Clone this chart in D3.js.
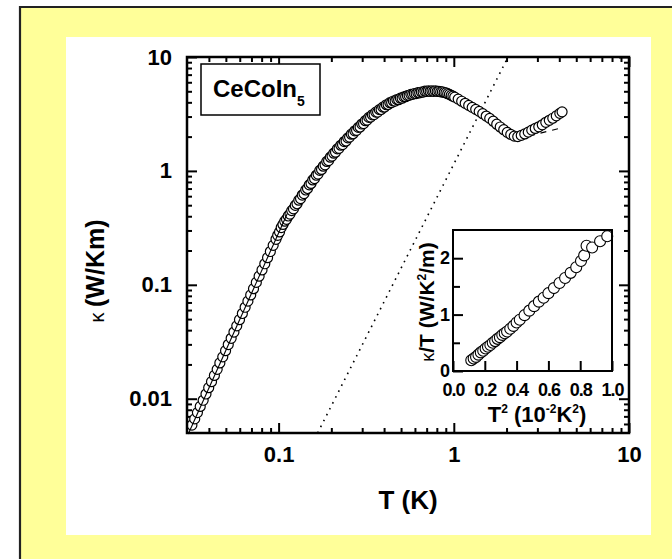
<!DOCTYPE html>
<html>
<head>
<meta charset="utf-8">
<script src="https://cdn.jsdelivr.net/npm/d3@7"></script>
<style>
  body { margin: 0; background: #fff; }
  svg text { font-family: "Liberation Sans", Arial, sans-serif; font-weight: bold; fill: #000; }
</style>
</head>
<body>
<svg id="chart" width="672" height="559"></svg>
<script>
// main curve, kappa(T) in W/Km (first sweep)
const T_VALUES = [
  0.0320, 0.0332, 0.0344, 0.0357, 0.0371, 0.0385, 0.0399, 0.0414, 0.0430, 0.0446,
  0.0462, 0.0480, 0.0498, 0.0516, 0.0536, 0.0556, 0.0577, 0.0598, 0.0621, 0.0644,
  0.0668, 0.0693, 0.0719, 0.0746, 0.0774, 0.0804, 0.0834, 0.0865, 0.0897, 0.0931,
  0.0966, 0.1012, 0.1059, 0.1109, 0.1161, 0.1216, 0.1274, 0.1334, 0.1396, 0.1462,
  0.1531, 0.1603, 0.1679, 0.1758, 0.1841, 0.1928, 0.2018, 0.2113, 0.2213, 0.2317,
  0.2427, 0.2541, 0.2661, 0.2786, 0.2917, 0.3055, 0.3199, 0.3350, 0.3508, 0.3673,
  0.3846, 0.4027, 0.4217, 0.4416, 0.4624, 0.4842, 0.5070, 0.5309, 0.5559, 0.5821,
  0.6095, 0.6383, 0.6683, 0.6998, 0.7328, 0.7674, 0.8035, 0.8414, 0.8810, 0.9226,
  0.9660, 1.0116, 1.0593, 1.1092, 1.1614, 1.2162, 1.2735, 1.3335, 1.3964, 1.4622,
  1.5311, 1.6032, 1.6788, 1.7579, 1.8408, 1.9275, 2.0184, 2.1135, 2.2131, 2.3174,
  2.4266, 2.5410, 2.6607, 2.7861, 2.9174, 3.0549, 3.1989, 3.3497, 3.5075, 3.6728,
  3.8459, 4.0272, 4.150
];
const KAPPA_VALUES = [
  0.00587, 0.00665, 0.00755, 0.00855, 0.00969, 0.0110, 0.0125, 0.0141, 0.0160, 0.0181,
  0.0206, 0.0233, 0.0264, 0.0299, 0.0339, 0.0385, 0.0436, 0.0494, 0.0560, 0.0635,
  0.0719, 0.0815, 0.0924, 0.105, 0.119, 0.135, 0.153, 0.173, 0.196, 0.222,
  0.251, 0.291, 0.339, 0.376, 0.418, 0.464, 0.515, 0.571, 0.632, 0.701,
  0.776, 0.857, 0.938, 1.03, 1.13, 1.23, 1.35, 1.46, 1.58, 1.70,
  1.83, 1.98, 2.12, 2.27, 2.43, 2.60, 2.79, 2.97, 3.12, 3.28,
  3.46, 3.64, 3.83, 3.98, 4.10, 4.22, 4.35, 4.48, 4.61, 4.70,
  4.77, 4.85, 4.92, 5.00, 5.00, 5.00, 4.99, 4.94, 4.88, 4.76,
  4.60, 4.44, 4.27, 4.09, 3.92, 3.76, 3.61, 3.47, 3.33, 3.18,
  3.03, 2.89, 2.73, 2.57, 2.43, 2.30, 2.18, 2.09, 2.02, 2.00,
  2.05, 2.11, 2.19, 2.28, 2.36, 2.44, 2.54, 2.67, 2.78, 2.90,
  3.04, 3.20, 3.30
];
// second sweep, dense between 0.1 K and 1 K
const T_VALUES_B = [
  0.0988, 0.1035, 0.1084, 0.1135, 0.1188, 0.1245, 0.1304, 0.1365, 0.1429, 0.1496,
  0.1567, 0.1641, 0.1718, 0.1799, 0.1884, 0.1973, 0.2065, 0.2163, 0.2264, 0.2371,
  0.2483, 0.2600, 0.2723, 0.2851, 0.2985, 0.3126, 0.3274, 0.3428, 0.3590, 0.3758,
  0.3936, 0.4121, 0.4315, 0.4519, 0.4732, 0.4955, 0.5188, 0.5433, 0.5688, 0.5957,
  0.6237, 0.6531, 0.6839, 0.7161, 0.7499, 0.7853, 0.8222, 0.8610, 0.9016, 0.9441,
  0.9886
];
const KAPPA_VALUES_B = [
  0.272, 0.318, 0.362, 0.402, 0.448, 0.498, 0.553, 0.614, 0.680, 0.754,
  0.833, 0.916, 1.01, 1.10, 1.21, 1.32, 1.43, 1.56, 1.68, 1.81,
  1.95, 2.10, 2.25, 2.41, 2.58, 2.76, 2.95, 3.11, 3.28, 3.45,
  3.63, 3.81, 3.97, 4.11, 4.23, 4.35, 4.47, 4.59, 4.70, 4.78,
  4.86, 4.93, 5.01, 5.05, 5.05, 5.04, 5.00, 4.94, 4.84, 4.70,
  4.53
];

// guide lines
const DOTTED_T = [0.167, 2.04];
const DOTTED_KAPPA = [0.005, 10];
const FIT_T = [0.0305, 0.112];
const FIT_KAPPA = [0.0049, 0.42];
const DASH_T = [2.3, 4.0];
const DASH_KAPPA = [1.91, 2.36];

// inset: kappa/T vs T^2
const INSET_T2 = [
  0.115, 0.13, 0.145, 0.16, 0.175, 0.19, 0.205, 0.22, 0.235, 0.25,
  0.265, 0.28, 0.295, 0.31, 0.325, 0.34, 0.36, 0.38, 0.40, 0.42,
  0.45, 0.48, 0.51, 0.54, 0.57, 0.60, 0.635, 0.67, 0.705, 0.74,
  0.775, 0.805, 0.825, 0.84, 0.875, 0.925, 0.97
];
const INSET_KT = [
  0.19, 0.22, 0.25, 0.29, 0.33, 0.36, 0.40, 0.43, 0.46, 0.50,
  0.53, 0.57, 0.60, 0.64, 0.67, 0.70, 0.75, 0.80, 0.86, 0.91,
  0.99, 1.07, 1.15, 1.23, 1.30, 1.38, 1.47, 1.56, 1.65, 1.74,
  1.84, 1.95, 2.05, 2.22, 2.19, 2.30, 2.39
];

const X_MAJOR = [0.1, 1, 10];
const X_LABELS = ['0.1', '1', '10'];
const X_MINOR = [0.04, 0.05, 0.06, 0.07, 0.08, 0.09, 0.2, 0.3, 0.4, 0.5, 0.6, 0.7, 0.8, 0.9,
                 2, 3, 4, 5, 6, 7, 8, 9];
const Y_MAJOR = [0.01, 0.1, 1, 10];
const Y_LABELS = ['0.01', '0.1', '1', '10'];
const Y_MINOR = [0.006, 0.007, 0.008, 0.009, 0.02, 0.03, 0.04, 0.05, 0.06, 0.07, 0.08, 0.09,
                 0.2, 0.3, 0.4, 0.5, 0.6, 0.7, 0.8, 0.9, 2, 3, 4, 5, 6, 7, 8, 9];
const INSET_X_TICKS = [0.0, 0.2, 0.4, 0.6, 0.8, 1.0];
const INSET_X_LABELS = ['0.0', '0.2', '0.4', '0.6', '0.8', '1.0'];
const INSET_Y_TICKS = [0, 1, 2];
const INSET_Y_MINOR = [0.5, 1.5];

const PLOT = { left: 187, right: 629, top: 57, bottom: 433 };
const INSET = { left: 453, right: 612, top: 230, bottom: 371 };

const svg = d3.select('#chart');

// page frame
svg.append('rect').attr('x', 20).attr('y', 7).attr('width', 652).attr('height', 552)
  .attr('fill', '#ffff99');
svg.append('path').attr('d', 'M20,559 V7 H672')
  .attr('fill', 'none').attr('stroke', '#222').attr('stroke-width', 2.2);
svg.append('rect').attr('x', 66).attr('y', 37).attr('width', 585).attr('height', 498)
  .attr('fill', '#fff');

const x = d3.scaleLog().domain([0.03, 10]).range([PLOT.left, PLOT.right]);
const y = d3.scaleLog().domain([0.005, 10]).range([PLOT.bottom, PLOT.top]);

const mainData = T_VALUES.map((t, i) => ({ t: t, k: KAPPA_VALUES[i] }))
  .concat(T_VALUES_B.map((t, i) => ({ t: t, k: KAPPA_VALUES_B[i] })))
  .sort((a, b) => a.t - b.t);
const toPts = (ts, ks) => ts.map((t, i) => [x(t), y(ks[i])]);

function styleAxis(g, size) {
  g.select('.domain').remove();
  g.selectAll('.tick line').attr('stroke', '#000').attr('stroke-width', 2);
  g.selectAll('.tick text').attr('font-size', size).attr('fill', '#000');
}

// minor ticks, all four sides
[[d3.axisBottom(x), `translate(0,${PLOT.bottom})`, X_MINOR],
 [d3.axisTop(x), `translate(0,${PLOT.top})`, X_MINOR],
 [d3.axisLeft(y), `translate(${PLOT.left},0)`, Y_MINOR],
 [d3.axisRight(y), `translate(${PLOT.right},0)`, Y_MINOR]].forEach(([ax, tr, vals]) => {
  svg.append('g').attr('transform', tr)
    .call(ax.tickValues(vals).tickSizeInner(-5).tickSizeOuter(0).tickFormat(''))
    .call(g => styleAxis(g, 0));
});

// major ticks
svg.append('g').attr('transform', `translate(0,${PLOT.bottom})`)
  .call(d3.axisBottom(x).tickValues(X_MAJOR).tickSizeInner(-10).tickSizeOuter(0)
    .tickPadding(13).tickFormat((d, i) => X_LABELS[i]))
  .call(g => styleAxis(g, 22));
svg.append('g').attr('transform', `translate(0,${PLOT.top})`)
  .call(d3.axisTop(x).tickValues(X_MAJOR).tickSizeInner(-10).tickSizeOuter(0).tickFormat(''))
  .call(g => styleAxis(g, 0));
svg.append('g').attr('transform', `translate(${PLOT.left},0)`)
  .call(d3.axisLeft(y).tickValues(Y_MAJOR).tickSizeInner(-10).tickSizeOuter(0)
    .tickPadding(15).tickFormat((d, i) => Y_LABELS[i]))
  .call(g => styleAxis(g, 22));
svg.append('g').attr('transform', `translate(${PLOT.right},0)`)
  .call(d3.axisRight(y).tickValues(Y_MAJOR).tickSizeInner(-10).tickSizeOuter(0).tickFormat(''))
  .call(g => styleAxis(g, 0));

const line = d3.line();

// T^3 dotted line and dashed fit, under the symbols
svg.append('path').attr('d', line(toPts(DOTTED_T, DOTTED_KAPPA)))
  .attr('fill', 'none').attr('stroke', '#000').attr('stroke-width', 1.6)
  .attr('stroke-dasharray', '1.6,5');
svg.append('path').attr('d', line(toPts(DASH_T, DASH_KAPPA)))
  .attr('fill', 'none').attr('stroke', '#000').attr('stroke-width', 1.2)
  .attr('stroke-dasharray', '6,6');

svg.append('g').selectAll('circle')
  .data(mainData)
  .enter()
  .append('circle')
  .attr('cx', d => x(d.t))
  .attr('cy', d => y(d.k))
  .attr('r', 5)
  .attr('fill', '#fff')
  .attr('stroke', '#000')
  .attr('stroke-width', 1.2);

// low-T power-law fit, drawn over the symbols
svg.append('path').attr('d', line(toPts(FIT_T, FIT_KAPPA)))
  .attr('fill', 'none').attr('stroke', '#000').attr('stroke-width', 1.1);

// frame
svg.append('rect')
  .attr('x', PLOT.left).attr('y', PLOT.top)
  .attr('width', PLOT.right - PLOT.left).attr('height', PLOT.bottom - PLOT.top)
  .attr('fill', 'none').attr('stroke', '#000').attr('stroke-width', 2.5);

// legend box
svg.append('rect').attr('x', 201).attr('y', 64).attr('width', 119).attr('height', 51)
  .attr('fill', '#fff').attr('stroke', '#000').attr('stroke-width', 1.5);
const leg = svg.append('text').attr('x', 213).attr('y', 97).attr('font-size', 24);
leg.append('tspan').text('CeCoIn');
leg.append('tspan').attr('font-size', 14).attr('dy', 9).text('5');

// axis titles
svg.append('text').attr('x', 408).attr('y', 509).attr('text-anchor', 'middle')
  .attr('font-size', 26).text('T (K)');
const yt = svg.append('text').attr('transform', 'translate(104,271) rotate(-90)')
  .attr('text-anchor', 'middle').attr('font-size', 25);
yt.append('tspan').attr('font-weight', 'normal').attr('font-size', 20).text('\u03ba ');
yt.append('tspan').text('(W/Km)');

// inset
const ix = d3.scaleLinear().domain([0, 1]).range([INSET.left, INSET.right]);
const iy = d3.scaleLinear().domain([0, 2.5]).range([INSET.bottom, INSET.top]);

svg.append('rect').attr('x', INSET.left).attr('y', INSET.top)
  .attr('width', INSET.right - INSET.left).attr('height', INSET.bottom - INSET.top)
  .attr('fill', '#fff');

svg.append('g').attr('transform', `translate(0,${INSET.bottom})`)
  .call(d3.axisBottom(ix).tickValues(INSET_X_TICKS).tickSizeInner(-10).tickSizeOuter(0)
    .tickPadding(12).tickFormat((d, i) => INSET_X_LABELS[i]))
  .call(g => styleAxis(g, 18))
  .call(g => g.selectAll('.tick text').attr('letter-spacing', -1));
svg.append('g').attr('transform', `translate(${INSET.left},0)`)
  .call(d3.axisLeft(iy).tickValues(INSET_Y_TICKS).tickSizeInner(-10).tickSizeOuter(0)
    .tickPadding(3).tickFormat(d3.format('d')))
  .call(g => styleAxis(g, 18));
svg.append('g').attr('transform', `translate(${INSET.left},0)`)
  .call(d3.axisLeft(iy).tickValues(INSET_Y_MINOR).tickSizeInner(-7).tickSizeOuter(0).tickFormat(''))
  .call(g => styleAxis(g, 0));

svg.append('g').selectAll('circle')
  .data(INSET_T2.map((v, i) => ({ x: v, y: INSET_KT[i] })))
  .enter()
  .append('circle')
  .attr('cx', d => ix(d.x))
  .attr('cy', d => iy(d.y))
  .attr('r', 5.5)
  .attr('fill', '#fff')
  .attr('stroke', '#000')
  .attr('stroke-width', 1.1);

svg.append('rect').attr('x', INSET.left).attr('y', INSET.top)
  .attr('width', INSET.right - INSET.left).attr('height', INSET.bottom - INSET.top)
  .attr('fill', 'none').attr('stroke', '#000').attr('stroke-width', 2);

const ixt = svg.append('text').attr('x', 537).attr('y', 422).attr('text-anchor', 'middle')
  .attr('font-size', 22);
ixt.append('tspan').text('T');
ixt.append('tspan').attr('font-size', 12).attr('dy', -9).text('2');
ixt.append('tspan').attr('dy', 9).text(' (10');
ixt.append('tspan').attr('font-size', 12).attr('dy', -9).text('-2');
ixt.append('tspan').attr('dy', 9).text('K');
ixt.append('tspan').attr('font-size', 12).attr('dy', -9).text('2');
ixt.append('tspan').attr('dy', 9).text(')');

const iyt = svg.append('text').attr('transform', 'translate(434,302) rotate(-90)')
  .attr('text-anchor', 'middle').attr('font-size', 21);
iyt.append('tspan').attr('font-weight', 'normal').attr('font-size', 18).text('\u03ba');
iyt.append('tspan').text('/T (W/K');
iyt.append('tspan').attr('font-size', 12).attr('dy', -8).text('2');
iyt.append('tspan').attr('dy', 8).text('/m)');
</script>
</body>
</html>
